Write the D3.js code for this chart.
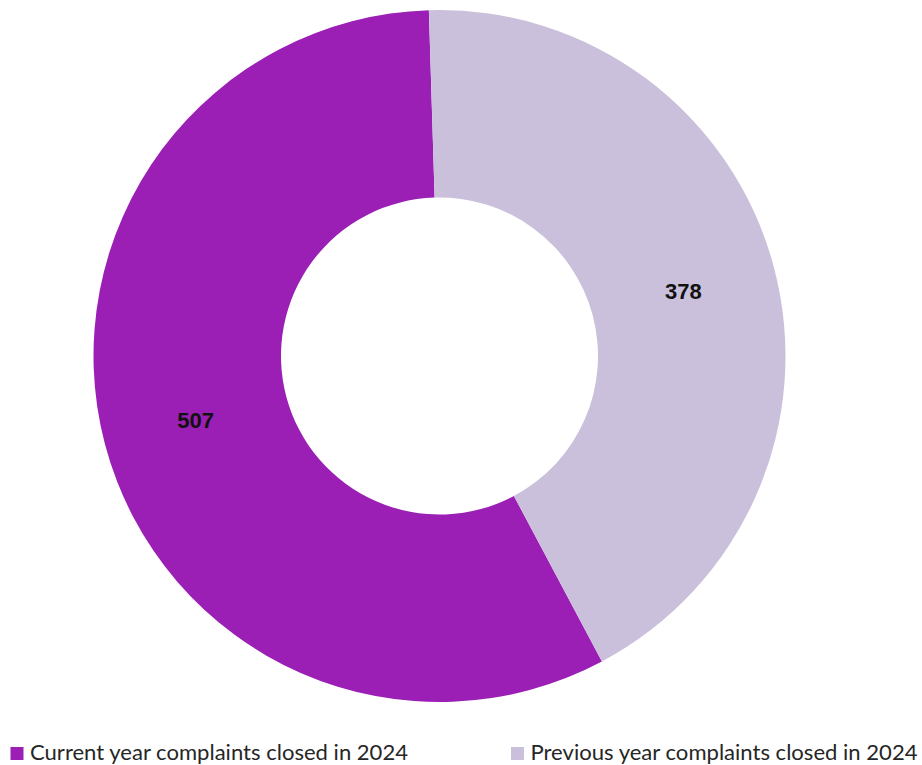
<!DOCTYPE html>
<html>
<head>
<meta charset="utf-8">
<script src="https://cdn.jsdelivr.net/npm/d3@7"></script>
<style>
  html, body { margin: 0; padding: 0; background: #ffffff; }
  svg { display: block; }
</style>
</head>
<body>
<svg id="chart" width="922" height="765"></svg>
<script>
// Complaints closed in 2024, split by the year they were opened
const categories = ["Current year complaints closed in 2024", "Previous year complaints closed in 2024"];
const values = [507, 378];
const colors = ["#9b1fb5", "#cbc0dc"];

const svg = d3.select("#chart");
const cx = 439.5, cy = 356;
const outerR = 346, innerR = 158.5;

// Current-year slice begins at ~152° (clockwise from 12 o'clock)
const start = 152 * Math.PI / 180;
const pie = d3.pie().sort(null).value(d => d.value)
  .startAngle(start).endAngle(start + 2 * Math.PI);

const data = categories.map((c, i) => ({ name: c, value: values[i], color: colors[i] }));
const arcs = pie(data);
const arc = d3.arc().innerRadius(innerR).outerRadius(outerR);

const g = svg.append("g").attr("transform", `translate(${cx},${cy})`);

g.selectAll("path.slice")
  .data(arcs)
  .join("path")
  .attr("class", "slice")
  .attr("d", arc)
  .attr("fill", d => d.data.color);

// Value labels at slice centroids
g.selectAll("text.val")
  .data(arcs)
  .join("text")
  .attr("class", "val")
  .attr("x", d => arc.centroid(d)[0])
  .attr("y", d => arc.centroid(d)[1])
  .attr("text-anchor", "middle")
  .attr("dominant-baseline", "central")
  .attr("font-family", "Liberation Sans, Arial, sans-serif")
  .attr("font-weight", "bold")
  .attr("font-size", 22)
  .attr("fill", "#111111")
  .text(d => d.data.value);

// Legend along the bottom
const legendX = [10.5, 511];
const legendW = [378, 387];
const legend = svg.selectAll("g.legend")
  .data(data)
  .join("g")
  .attr("class", "legend")
  .attr("transform", (d, i) => `translate(${legendX[i]},0)`);

legend.append("rect")
  .attr("x", 0).attr("y", 747)
  .attr("width", 13).attr("height", 13)
  .attr("fill", d => d.color);

legend.append("text")
  .attr("x", 19.5)
  .attr("y", 759.5)
  .attr("font-family", "Lato, 'Open Sans', sans-serif")
  .attr("font-size", 21)
  .attr("fill", "#262626")
  .attr("textLength", (d, i) => legendW[i])
  .attr("lengthAdjust", "spacingAndGlyphs")
  .text(d => d.name);
</script>
</body>
</html>
